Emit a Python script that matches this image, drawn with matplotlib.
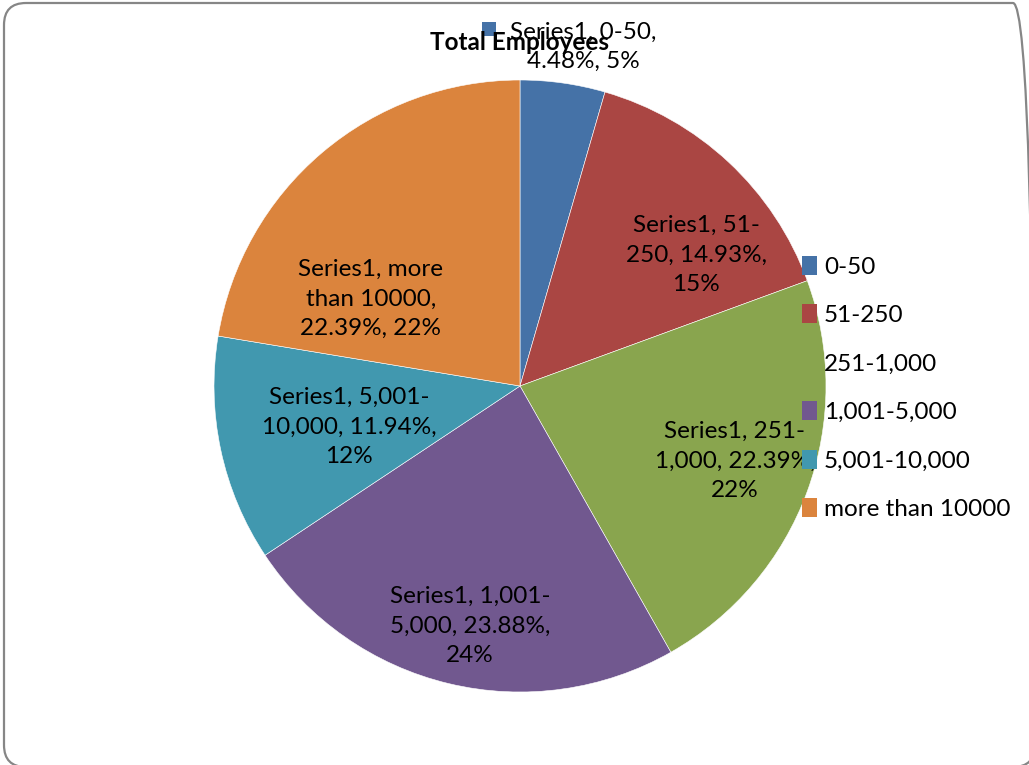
import matplotlib.pyplot as plt
from matplotlib.patches import FancyBboxPatch, Patch

# data
categories = ['0-50', '51-250', '251-1,000', '1,001-5,000', '5,001-10,000', 'more than 10000']
percents = [4.48, 14.93, 22.39, 23.88, 11.94, 22.39]
rounded = [5, 15, 22, 24, 12, 22]
colors = ['#4572A7', '#AA4643', '#89A54E', '#71588F', '#4198AF', '#DB843D']

# label texts, wrapped like the excel labels
label_lines = [
    ['Series1, 0-50,', '4.48%, 5%'],
    ['Series1, 51-', '250, 14.93%,', '15%'],
    ['Series1, 251-', '1,000, 22.39%,', '22%'],
    ['Series1, 1,001-', '5,000, 23.88%,', '24%'],
    ['Series1, 5,001-', '10,000, 11.94%,', '12%'],
    ['Series1, more', 'than 10000,', '22.39%, 22%'],
]
# label centres in pixels (x, y from top)
label_pos = [(583, 47), (696, 255), (735, 461), (470, 626), (349, 427), (371, 299)]

W, H = 1029, 765
plt.rcParams['font.family'] = ['Lato', 'DejaVu Sans']
fig = plt.figure(figsize=(W / 100, H / 100), dpi=100)
ax = fig.add_axes([0, 0, 1, 1])

wedges, _ = ax.pie(percents, colors=colors, startangle=90, counterclock=False,
                   center=(520, H - 386), radius=306,
                   wedgeprops=dict(edgecolor='white', linewidth=0.4))
ax.set_xlim(0, W)
ax.set_ylim(0, H)
ax.set_aspect('auto')
ax.axis('off')

# rounded chart border
frame = FancyBboxPatch((4, H - 767), 1031, 764, boxstyle='round,pad=0,rounding_size=22',
                       fill=False, edgecolor='#868686', linewidth=1.6, clip_on=False)
ax.add_patch(frame)

fs = 17.5
for lines, (x, y) in zip(label_lines, label_pos):
    ax.text(x, H - y, '\n'.join(lines), ha='center', va='center', fontsize=fs,
            linespacing=1.5, color='black', zorder=6)

# the legend key in the first label
ax.add_patch(plt.Rectangle((482, H - 36), 14, 14, facecolor=colors[0], edgecolor='none', zorder=6))

ax.text(520, H - 42, 'Total Employees', ha='center', va='center', fontsize=fs,
        fontweight='bold', zorder=7)

handles = [Patch(facecolor=c, edgecolor='none') for c in colors]
leg = ax.legend(handles, categories, loc='upper left', bbox_to_anchor=(802 / W, 1 - 256 / H),
                frameon=False, fontsize=fs, handlelength=0.6, handleheight=0.8,
                handletextpad=0.3, labelspacing=1.1, borderpad=0, borderaxespad=0)
leg.set_zorder(8)

fig.savefig('out.png', dpi=100)
